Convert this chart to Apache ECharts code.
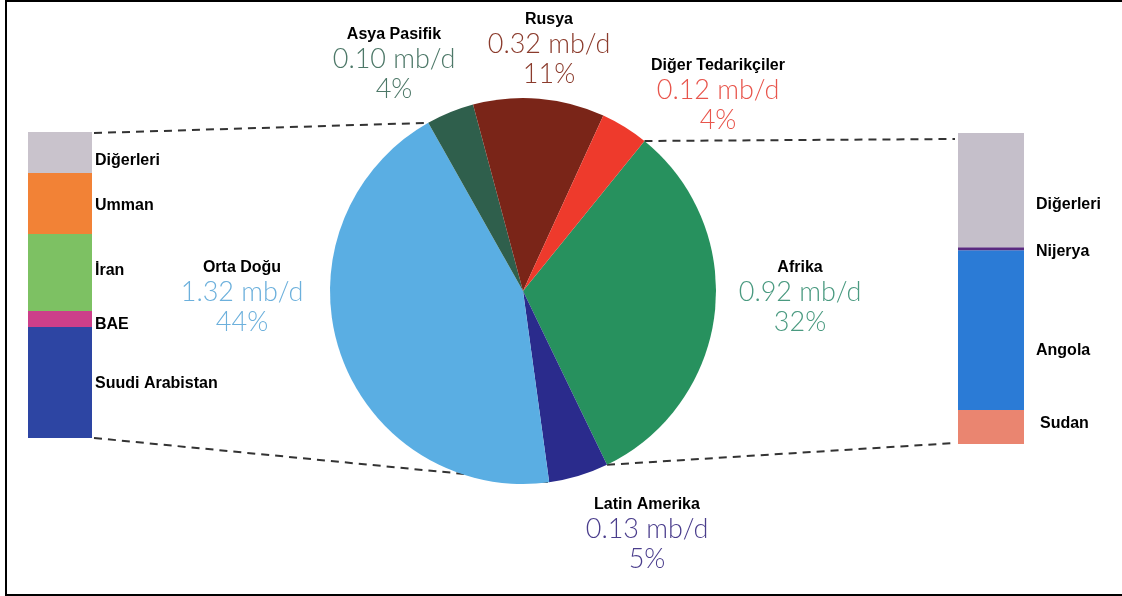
<!DOCTYPE html>
<html>
<head>
<meta charset="utf-8">
<script src="https://cdn.jsdelivr.net/npm/echarts@6/dist/echarts.min.js"></script>
<style>
html,body{margin:0;padding:0;background:#fff;}
#c{width:1122px;height:596px;}
</style>
</head>
<body>
<div id="c"></div>
<script>
// ---- data ----
const pieNames = ['Afrika', 'Latin Amerika', 'Orta Doğu', 'Asya Pasifik', 'Rusya', 'Diğer Tedarikçiler'];
const pieVolumes = ['0.92', '0.13', '1.32', '0.10', '0.32', '0.12']; // mb/d
const piePercents = [32, 5, 44, 4, 11, 4];

// Middle East breakdown (bottom to top), share %
const leftNames = ['Suudi Arabistan', 'BAE', 'İran', 'Umman', 'Diğerleri'];
const leftValues = [36.3, 5.2, 25.2, 19.9, 13.4];

// Africa breakdown (bottom to top), share %
const rightNames = ['Sudan', 'Angola', 'Nijerya', 'Diğerleri'];
const rightValues = [10.9, 51.4, 1.0, 36.7];

// ---- styles / layout ----
const pieColors = ['#27915e', '#2a2b8c', '#5aaee3', '#2f5f4c', '#7a2518', '#ee3a2c'];
const pieTextColors = ['#4a9a80', '#4a3d8c', '#6cb0dc', '#4d7868', '#8b3b2c', '#e8554c'];
const pieLabelPos = [[800, 259], [647, 496], [242, 259], [394, 26], [549, 11], [718, 57]];
const leftColors = ['#2d45a3', '#cc3f8a', '#7dc163', '#f28236', '#c9c3cc'];
const leftLabelOffsets = [[0, 1], [0, 6], [0, -2], [0, 2], [0, 8]];
const rightColors = ['#ea8570', '#2b7bd6', '#5a2a80', '#c5bfca'];
const rightLabelOffsets = [[4, -3], [0, 20], [0, 3], [0, 15]];

const CX = 523, CY = 291, R = 193, START = 51;
const LG = {left: 28, top: 132, width: 64, height: 306};
const RG = {left: 958, top: 133, width: 66, height: 311};

const nameFont = {fontFamily: 'Liberation Sans, Arial, sans-serif', fontWeight: 'bold', fontSize: 16, color: '#000'};
const valueFont = {fontFamily: 'Lato, sans-serif', fontWeight: 300, fontSize: 27, lineHeight: 30};

function barSeries(names, values, colors, offsets, gridIndex, dist) {
  return names.map((n, i) => ({
    type: 'bar', name: n, stack: 's' + gridIndex,
    xAxisIndex: gridIndex, yAxisIndex: gridIndex,
    barWidth: '100%',
    data: [values[i]],
    itemStyle: {color: colors[i]},
    label: {
      show: true, position: 'right', distance: dist,
      offset: offsets[i],
      formatter: n,
      ...nameFont
    },
    silent: true
  }));
}

function boundaryPoint(idx) {
  const total = piePercents.reduce((a, b) => a + b, 0);
  let cum = 0;
  for (let i = 0; i <= idx; i++) cum += piePercents[i];
  const a = (START - 360 * cum / total) * Math.PI / 180;
  return [CX + R * Math.cos(a), CY - R * Math.sin(a)];
}

const pOrtaEnd = boundaryPoint(2);   // Orta Doğu / Asya Pasifik
const pLatinEnd = boundaryPoint(1);  // Latin Amerika / Orta Doğu
const pAfrikaStart = boundaryPoint(5); // Diğer / Afrika
const pAfrikaEnd = boundaryPoint(0);   // Afrika / Latin

const dashStyle = {stroke: '#333', lineWidth: 2, lineDash: [8, 6]};
function dline(p1, p2) {
  return {type: 'line', z: 0, silent: true,
    shape: {x1: p1[0], y1: p1[1], x2: p2[0], y2: p2[1]}, style: dashStyle};
}

const chart = echarts.init(document.getElementById('c'), null, {renderer: 'canvas'});
chart.setOption({
  backgroundColor: '#fff',
  animation: false,
  grid: [
    {left: LG.left, top: LG.top, width: LG.width, height: LG.height},
    {left: RG.left, top: RG.top, width: RG.width, height: RG.height}
  ],
  xAxis: [
    {type: 'category', gridIndex: 0, data: ['Orta Doğu'], show: false},
    {type: 'category', gridIndex: 1, data: ['Afrika'], show: false}
  ],
  yAxis: [
    {type: 'value', gridIndex: 0, min: 0, max: leftValues.reduce((a, b) => a + b, 0), show: false},
    {type: 'value', gridIndex: 1, min: 0, max: rightValues.reduce((a, b) => a + b, 0), show: false}
  ],
  graphic: [
    dline([LG.left + LG.width + 2, LG.top + 1], pOrtaEnd),
    dline([LG.left + LG.width + 2, LG.top + LG.height], pLatinEnd),
    dline(pAfrikaStart, [RG.left - 3, RG.top + 6]),
    dline(pAfrikaEnd, [RG.left - 3, RG.top + RG.height - 1]),
    {type: 'rect', z: 10, silent: true, shape: {x: 5, y: 0, width: 2, height: 596}, style: {fill: '#000'}},
    {type: 'rect', z: 10, silent: true, shape: {x: 5, y: 0, width: 1117, height: 2}, style: {fill: '#000'}},
    {type: 'rect', z: 10, silent: true, shape: {x: 5, y: 594, width: 1117, height: 2}, style: {fill: '#000'}}
  ],
  series: [
    {
      type: 'pie',
      center: [CX, CY],
      radius: R,
      startAngle: START,
      clockwise: true,
      z: 5,
      silent: true,
      data: pieNames.map((n, i) => ({
        name: n, value: piePercents[i],
        itemStyle: {color: pieColors[i]},
        label: {
          rich: {
            n: {...nameFont, lineHeight: 18, align: 'center'},
            v: {...valueFont, color: pieTextColors[i], align: 'center'},
            p: {...valueFont, color: pieTextColors[i], align: 'center'}
          }
        }
      })),
      label: {
        show: true,
        position: 'outside',
        align: 'center',
        formatter: (p) => '{n|' + p.name + '}\n{v|' + pieVolumes[p.dataIndex] + ' mb/d}\n{p|' + piePercents[p.dataIndex] + '%}'
      },
      labelLine: {show: false},
      labelLayout: (p) => ({
        x: pieLabelPos[p.dataIndex][0],
        y: pieLabelPos[p.dataIndex][1],
        align: 'center',
        verticalAlign: 'top'
      })
    },
    ...barSeries(leftNames, leftValues, leftColors, leftLabelOffsets, 0, 3),
    ...barSeries(rightNames, rightValues, rightColors, rightLabelOffsets, 1, 12)
  ]
});
</script>
</body>
</html>
